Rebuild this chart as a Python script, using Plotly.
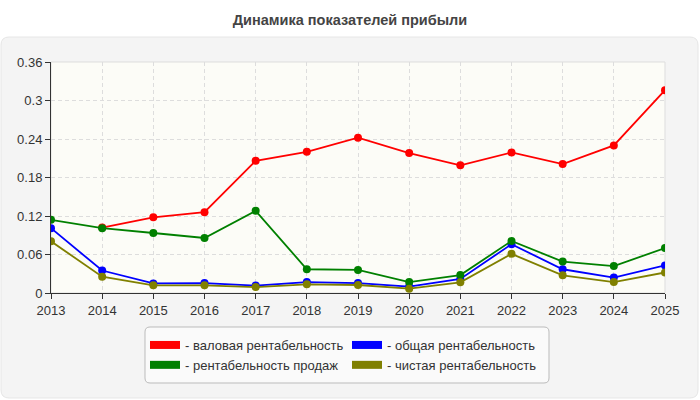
import plotly.graph_objects as go

# data
years = [2013, 2014, 2015, 2016, 2017, 2018, 2019, 2020, 2021, 2022, 2023, 2024, 2025]
gross = [None, 0.102, 0.118, 0.126, 0.206, 0.220, 0.242, 0.218, 0.199, 0.219, 0.201, 0.230, 0.316]
total = [0.101, 0.035, 0.015, 0.0155, 0.0115, 0.017, 0.0155, 0.010, 0.022, 0.076, 0.037, 0.024, 0.043]
sales = [0.114, 0.101, 0.0935, 0.0857, 0.128, 0.037, 0.036, 0.017, 0.028, 0.081, 0.049, 0.042, 0.070]
net = [0.0805, 0.0255, 0.012, 0.012, 0.0093, 0.0135, 0.0125, 0.0067, 0.0167, 0.061, 0.0275, 0.017, 0.032]

names = ['- валовая рентабельность', '- общая рентабельность',
         '- рентабельность продаж', '- чистая рентабельность']
series = [gross, total, sales, net]
colors = ['#ff0000', '#0000ff', '#008000', '#808000']
legends = ['legend', 'legend2', 'legend', 'legend2']

W, H = 700, 400
L, R, T, B = 51, 35, 62, 107
PW, PH = W - L - R, H - T - B


def px(x, y):
    # pixel position -> paper coordinates
    return (x - L) / PW, (H - B - y) / PH


def rounded(x0, y0, x1, y1, r):
    pts = []
    a = px(x0 + r, y0); pts.append('M%f,%f' % a)
    a = px(x1 - r, y0); pts.append('L%f,%f' % a)
    a = px(x1, y0 + r); pts.append('Q%f,%f %f,%f' % (*px(x1, y0), *a))
    a = px(x1, y1 - r); pts.append('L%f,%f' % a)
    a = px(x1 - r, y1); pts.append('Q%f,%f %f,%f' % (*px(x1, y1), *a))
    a = px(x0 + r, y1); pts.append('L%f,%f' % a)
    a = px(x0, y1 - r); pts.append('Q%f,%f %f,%f' % (*px(x0, y1), *a))
    a = px(x0, y0 + r); pts.append('L%f,%f' % a)
    pts.append('Q%f,%f %f,%f Z' % (*px(x0, y0), *px(x0 + r, y0)))
    return ' '.join(pts)


fig = go.Figure()

for s, c in zip(series, colors):
    fig.add_trace(go.Scatter(
        x=years, y=s, mode='lines+markers',
        line=dict(color=c, width=1.8),
        marker=dict(color=c, size=8),
        showlegend=False, hoverinfo='x+y'
    ))

# legend swatches
for n, c, lg in zip(names, colors, legends):
    fig.add_trace(go.Scatter(
        x=[None], y=[None], mode='lines', name=n,
        line=dict(color=c, width=8), legend=lg
    ))

legend_style = dict(xanchor='left', yanchor='top', bgcolor='rgba(0,0,0,0)',
                    borderwidth=0, font=dict(size=13, color='#333333'),
                    tracegroupgap=0, itemwidth=30)

fig.update_layout(
    width=W, height=H,
    margin=dict(l=L, r=R, t=T, b=B),
    paper_bgcolor='white',
    plot_bgcolor='#fcfcf7',
    font=dict(family='Liberation Sans, Arial, sans-serif', size=13, color='#333333'),
    title=dict(text='<b>Динамика показателей прибыли</b>', x=0.5, xanchor='center',
               y=0.95, yanchor='middle', font=dict(size=14.5, color='#444444')),
    shapes=[
        dict(type='path', xref='paper', yref='paper', layer='below',
             path=rounded(1, 37, 698, 398, 8),
             fillcolor='#f4f4f4', line=dict(color='#e6e6e6', width=1)),
        dict(type='rect', xref='paper', yref='paper', layer='below',
             x0=0, y0=0, x1=1, y1=1, fillcolor='#fcfcf7',
             line=dict(color='#dddddd', width=1)),
        dict(type='path', xref='paper', yref='paper', layer='below',
             path=rounded(145, 327, 549, 383, 5),
             fillcolor='#fafafa', line=dict(color='#bbbbbb', width=1)),
    ],
    legend=dict(x=px(145, 0)[0], y=px(0, 330)[1], **legend_style),
    legend2=dict(x=px(347, 0)[0], y=px(0, 330)[1], **legend_style),
)

fig.update_xaxes(
    range=[2013, 2025], dtick=1, tick0=2013,
    showgrid=True, gridcolor='#dddddd', griddash='4px,3px', gridwidth=1,
    showline=True, linecolor='#333333', linewidth=1,
    ticks='outside', ticklen=5, tickcolor='#333333',
    zeroline=False, fixedrange=True
)
fig.update_yaxes(
    range=[0, 0.36], dtick=0.06, tick0=0,
    showgrid=True, gridcolor='#dddddd', griddash='4px,3px', gridwidth=1,
    showline=True, linecolor='#333333', linewidth=1,
    ticks='outside', ticklen=5, tickcolor='#333333',
    zeroline=False, fixedrange=True
)

fig.write_html('out.html', config={'displayModeBar': False},
               post_script="document.body.style.margin='0';")
